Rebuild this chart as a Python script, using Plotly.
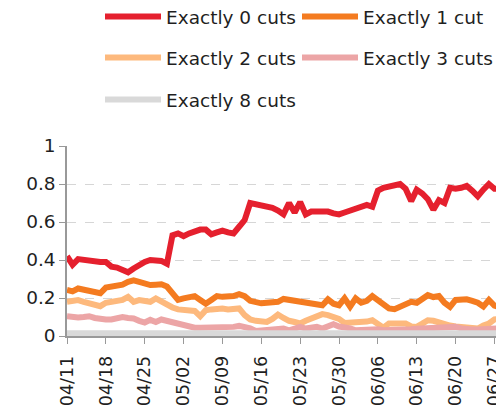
import datetime as dt
import plotly.graph_objects as go

start = dt.date(2024, 4, 11)

exactly_0 = [0.42, 0.375, 0.405, 0.40, 0.40, 0.39, 0.39, 0.39, 0.365, 0.36,
             0.345, 0.335, 0.355, 0.375, 0.39, 0.40, 0.40, 0.395, 0.38, 0.53,
             0.54, 0.525, 0.54, 0.55, 0.56, 0.56, 0.535, 0.545, 0.555, 0.545,
             0.54, 0.575, 0.61, 0.70, 0.695, 0.69, 0.685, 0.675, 0.66, 0.64,
             0.70, 0.65, 0.705, 0.64, 0.655, 0.656, 0.656, 0.655, 0.645, 0.64,
             0.65, 0.66, 0.675, 0.685, 0.69, 0.68, 0.765, 0.78, 0.785, 0.795,
             0.80, 0.775, 0.71, 0.77, 0.75, 0.72, 0.665, 0.715, 0.70, 0.78,
             0.775, 0.78, 0.79, 0.765, 0.735, 0.77, 0.80, 0.775, 0.775]
exactly_1 = [0.242, 0.235, 0.25, 0.245, 0.24, 0.228, 0.225, 0.255, 0.26, 0.26,
             0.27, 0.285, 0.293, 0.285, 0.275, 0.268, 0.27, 0.272, 0.26, 0.225,
             0.19, 0.198, 0.205, 0.21, 0.19, 0.17, 0.19, 0.21, 0.206, 0.206,
             0.21, 0.22, 0.21, 0.185, 0.178, 0.172, 0.175, 0.178, 0.18, 0.195,
             0.19, 0.19, 0.18, 0.175, 0.17, 0.168, 0.162, 0.193, 0.17, 0.162,
             0.198, 0.155, 0.198, 0.175, 0.185, 0.21, 0.19, 0.162, 0.145, 0.141,
             0.155, 0.165, 0.18, 0.175, 0.20, 0.215, 0.205, 0.21, 0.175, 0.153,
             0.19, 0.193, 0.193, 0.185, 0.175, 0.155, 0.19, 0.16, 0.15]
exactly_2 = [0.18, 0.185, 0.189, 0.18, 0.171, 0.163, 0.157, 0.175, 0.18, 0.18,
             0.19, 0.206, 0.18, 0.189, 0.185, 0.18, 0.198, 0.18, 0.168, 0.15,
             0.14, 0.137, 0.135, 0.132, 0.104, 0.136, 0.14, 0.145, 0.145, 0.14,
             0.142, 0.145, 0.11, 0.087, 0.08, 0.074, 0.074, 0.09, 0.113, 0.095,
             0.08, 0.074, 0.066, 0.08, 0.092, 0.11, 0.115, 0.11, 0.10, 0.09,
             0.069, 0.069, 0.069, 0.069, 0.076, 0.083, 0.06, 0.044, 0.066, 0.066,
             0.066, 0.066, 0.05, 0.048, 0.065, 0.083, 0.08, 0.07, 0.062, 0.055,
             0.05, 0.048, 0.045, 0.04, 0.039, 0.055, 0.066, 0.087, 0.09]
exactly_3 = [0.104, 0.10, 0.097, 0.10, 0.104, 0.095, 0.087, 0.087, 0.087, 0.09,
             0.10, 0.095, 0.092, 0.08, 0.071, 0.085, 0.074, 0.087, 0.08, 0.074,
             0.065, 0.056, 0.048, 0.044, 0.044, 0.044, 0.044, 0.045, 0.051, 0.05,
             0.048, 0.053, 0.05, 0.04, 0.026, 0.03, 0.03, 0.034, 0.036, 0.039,
             0.03, 0.04, 0.048, 0.039, 0.045, 0.048, 0.039, 0.055, 0.062, 0.05,
             0.048, 0.04, 0.03, 0.032, 0.035, 0.039, 0.035, 0.03, 0.03, 0.032,
             0.034, 0.034, 0.036, 0.038, 0.039, 0.042, 0.045, 0.048, 0.045, 0.045,
             0.048, 0.04, 0.035, 0.034, 0.034, 0.034, 0.036, 0.04, 0.04]
exactly_8 = [0.015] * 79

dates = [start + dt.timedelta(days=i) for i in range(len(exactly_0))]

series_names = ["Exactly 0 cuts", "Exactly 1 cut", "Exactly 2 cuts",
                "Exactly 3 cuts", "Exactly 8 cuts"]
series_values = [exactly_0, exactly_1, exactly_2, exactly_3, exactly_8]
colors = ["#E5202E", "#F47B20", "#FDB97D", "#ECA5A6", "#D9D9D9"]
legend_ids = ["legend", "legend", "legend2", "legend2", "legend3"]

y_tick_vals = [0, 0.2, 0.4, 0.6, 0.8, 1]
y_tick_text = ["0", "0.2", "0.4", "0.6", "0.8", "1"]

FONT = "DejaVu Sans"
TXT = "#1f1f1f"
W, H = 496, 408

fig = go.Figure()
for name, vals, col, lg in zip(series_names, series_values, colors, legend_ids):
    fig.add_trace(go.Scatter(x=dates, y=vals, name=name, mode="lines",
                             line=dict(color=col, width=6),
                             legend=lg))

leg_common = dict(orientation="h", xref="container", yref="container",
                  xanchor="left", yanchor="middle", entrywidth=126,
                  itemwidth=56, font=dict(family=FONT, size=18.5, color=TXT),
                  bgcolor="rgba(0,0,0,0)", borderwidth=0, tracegroupgap=0)
LX = 92 / W

fig.update_layout(
    width=W, height=H,
    margin=dict(l=59, r=0, t=138, b=80),
    paper_bgcolor="white", plot_bgcolor="white",
    font=dict(family=FONT, size=18.5, color=TXT),
    showlegend=True,
    legend=dict(x=LX, y=1 - 9 / H, **leg_common),
    legend2=dict(x=LX, y=1 - 50 / H, **leg_common),
    legend3=dict(x=LX, y=1 - 92 / H, **leg_common),
    xaxis=dict(
        type="date",
        range=[dt.datetime(2024, 4, 11), dt.datetime(2024, 6, 28)],
        tick0="2024-04-11", dtick=7 * 86400000, tickformat="%m/%d",
        tickangle=-90, ticks="outside", ticklen=6, tickcolor="#999999",
        ticklabelstandoff=5, ticklabeloverflow="allow",
        showline=True, linecolor="#999999", linewidth=1.5,
        showgrid=False, zeroline=False,
        tickfont=dict(family=FONT, size=17.5, color=TXT),
    ),
    yaxis=dict(
        range=[0, 1], tickvals=y_tick_vals, ticktext=y_tick_text,
        ticksuffix="\u00a0\u00a0",
        ticks="outside", ticklen=6, tickcolor="#999999",
        showline=True, linecolor="#999999", linewidth=1.5,
        showgrid=True, gridcolor="#D6D6D6", griddash="dash", gridwidth=1,
        zeroline=False,
        tickfont=dict(family=FONT, size=18.5, color=TXT),
    ),
)

fig.write_html("out.html")
